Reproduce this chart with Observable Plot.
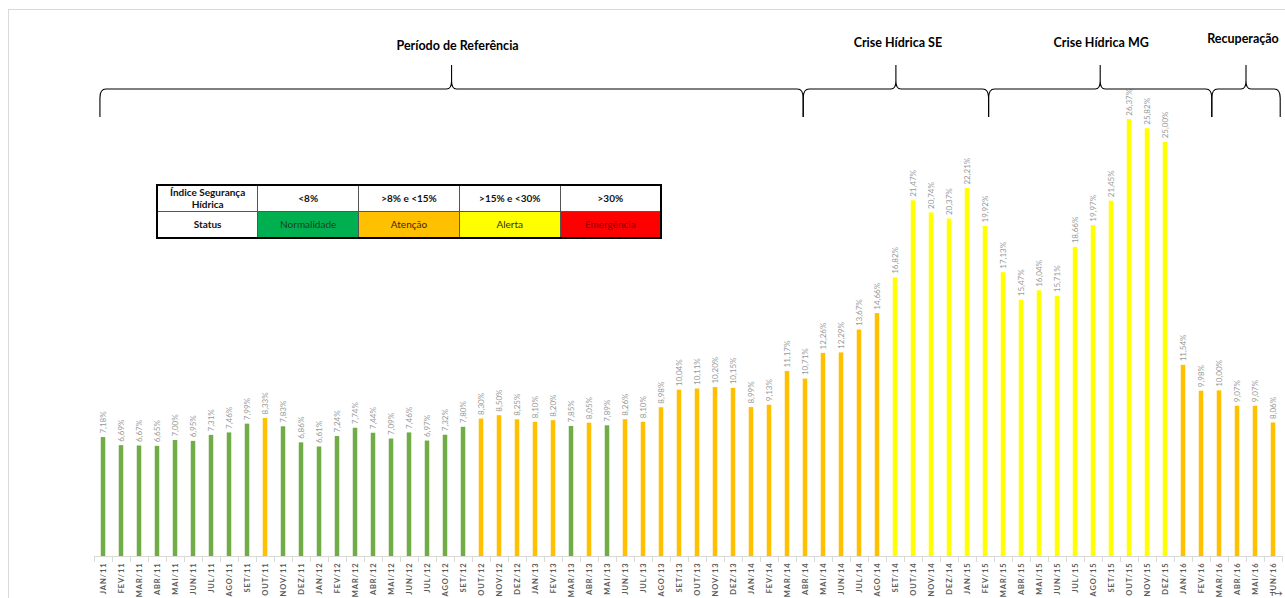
<!DOCTYPE html>
<html>
<head>
<meta charset="utf-8">
<script src="https://cdn.jsdelivr.net/npm/d3@7"></script>
<script src="https://cdn.jsdelivr.net/npm/@observablehq/plot@0.6"></script>
<style>
  html, body { margin: 0; padding: 0; background: #fff; overflow: hidden; }
  #wrap { position: relative; width: 1285px; height: 598px; font-family: Lato, "Open Sans", sans-serif; }
  #frame { position: absolute; left: 8px; top: 9px; width: 1300px; height: 620px;
           border-top: 1.5px solid #d9d9d9; border-left: 1.5px solid #d9d9d9; }
  #chart svg { position: absolute; left: 0; top: 0; }
  .ish g[aria-label="x-axis tick label"] text { letter-spacing: 0.9px; }
  table.legend { position: absolute; left: 156px; top: 184px; width: 506px; height: 53px;
                 border-collapse: collapse; border: 2px solid #000; table-layout: fixed;
                 font-family: Lato, "Open Sans", sans-serif; font-size: 10px; color: #111; }
  table.legend td { border: 1px solid #555; text-align: center; padding: 0; line-height: 1.15; }
  table.legend tr.head td { font-weight: bold; height: 25px; }
  table.legend tr.status td { height: 25px; }
  table.legend tr.status td.label { font-weight: bold; }
</style>
</head>
<body>
<div id="wrap">
  <div id="frame"></div>
  <div id="chart"></div>
</div>
<script>
// Monthly Índice de Segurança Hídrica, JAN/2011 – JUN/2016
const months = [
  "JAN/11","FEV/11","MAR/11","ABR/11","MAI/11","JUN/11","JUL/11","AGO/11","SET/11","OUT/11","NOV/11","DEZ/11",
  "JAN/12","FEV/12","MAR/12","ABR/12","MAI/12","JUN/12","JUL/12","AGO/12","SET/12","OUT/12","NOV/12","DEZ/12",
  "JAN/13","FEV/13","MAR/13","ABR/13","MAI/13","JUN/13","JUL/13","AGO/13","SET/13","OUT/13","NOV/13","DEZ/13",
  "JAN/14","FEV/14","MAR/14","ABR/14","MAI/14","JUN/14","JUL/14","AGO/14","SET/14","OUT/14","NOV/14","DEZ/14",
  "JAN/15","FEV/15","MAR/15","ABR/15","MAI/15","JUN/15","JUL/15","AGO/15","SET/15","OUT/15","NOV/15","DEZ/15",
  "JAN/16","FEV/16","MAR/16","ABR/16","MAI/16","JUN/16"
];
const values = [
  7.18, 6.69, 6.67, 6.65, 7.00, 6.95, 7.31, 7.46, 7.99, 8.33, 7.83, 6.86,
  6.61, 7.24, 7.74, 7.44, 7.09, 7.46, 6.97, 7.32, 7.80, 8.30, 8.50, 8.25,
  8.10, 8.20, 7.85, 8.05, 7.89, 8.26, 8.10, 8.98, 10.04, 10.11, 10.20, 10.15,
  8.99, 9.13, 11.17, 10.71, 12.26, 12.29, 13.67, 14.66, 16.82, 21.47, 20.74, 20.37,
  22.21, 19.92, 17.13, 15.47, 16.04, 15.71, 18.66, 19.97, 21.45, 26.37, 25.82, 25.00,
  11.54, 9.98, 10.00, 9.07, 9.07, 8.06
];

// Status thresholds (%) and the colours used for each status
const statusLimits = [8, 15, 30];
const statusNames = ["Normalidade", "Atenção", "Alerta", "Emergência"];
const statusRanges = ["<8%", ">8% e <15%", ">15% e <30%", ">30%"];
const barColors = ["#70AD47", "#FFC000", "#FFFF00", "#FF0000"];
const cellColors = ["#00B050", "#FFC000", "#FFFF00", "#FF0000"];
const cellText = ["#1b3d1b", "#3a2a00", "#333300", "#8b0000"];

// Periods marked with braces, spans given in month-index units
const periodNames = ["Período de Referência", "Crise Hídrica SE", "Crise Hídrica MG", "Recuperação"];
const periodStart = [-0.17, 38.9, 49.2, 61.6];
const periodEnd   = [38.9, 49.2, 61.6, 65.4];

const data = values.map((v, i) => ({i, month: months[i], v}));
const fmt = v => v.toFixed(2).replace(".", ",") + "%";
const barHalf = 0.125;
const boundaries = d3.range(-0.5, months.length, 1);

// Curly braces with their period titles, drawn in the top margin
function braces(index, {x}) {
  const g = d3.create("svg:g");
  const labelY = [47, 44, 44, 40];
  const labelDx = [6, 2, 1, -3];
  const yb = 117, yh = 89, yt = 65;
  periodNames.forEach((name, k) => {
    const x0 = x(periodStart[k]), x1 = x(periodEnd[k]), xm = (x0 + x1) / 2;
    g.append("path")
      .attr("fill", "none").attr("stroke", "#000").attr("stroke-width", 1.1)
      .attr("d",
        `M${x0},${yb}L${x0},${yh + 9}Q${x0},${yh} ${x0 + 6},${yh}` +
        `L${xm - 5},${yh}Q${xm},${yh} ${xm},${yh - 8}L${xm},${yt}` +
        `M${xm},${yh - 8}Q${xm},${yh} ${xm + 5},${yh}` +
        `L${x1 - 6},${yh}Q${x1},${yh} ${x1},${yh + 9}L${x1},${yb}`);
    g.append("text")
      .attr("x", xm + labelDx[k]).attr("y", labelY[k])
      .attr("text-anchor", "middle").attr("dominant-baseline", "middle")
      .attr("font-family", "Lato, 'Open Sans', sans-serif")
      .attr("font-weight", "bold").attr("font-size", 12.5).attr("fill", "#000")
      .text(name);
  });
  return g.node();
}

const chart = Plot.plot({
  width: 1285,
  height: 598,
  marginLeft: 94,
  marginRight: 3,
  marginTop: 59,
  marginBottom: 42,
  className: "ish",
  style: {fontFamily: "Lato, 'Open Sans', sans-serif", background: "transparent"},
  x: {type: "linear", domain: [-0.5, months.length - 0.5], axis: null},
  y: {domain: [0, 30], axis: null},
  color: {type: "threshold", domain: statusLimits, range: barColors},
  marks: [
    Plot.rectY(data, {x1: d => d.i - barHalf, x2: d => d.i + barHalf, y: "v", fill: "v"}),
    Plot.ruleY([0], {stroke: "#d9d9d9", strokeWidth: 1}),
    // tick marks between months
    Plot.ruleX(boundaries, {x: d => d, y1: 0, y2: 0, insetBottom: -6, stroke: "#d9d9d9", strokeWidth: 1}),
    // month labels
    Plot.axisX({ticks: d3.range(months.length), tickSize: 0, tickPadding: 6, tickRotate: -90,
                tickFormat: i => months[i], fontWeight: "bold", fontSize: 7.5, fill: "#595959"}),
    // value labels
    Plot.text(data, {x: "i", y: "v", text: d => fmt(d.v), rotate: -90, textAnchor: "start",
                     lineAnchor: "middle", dy: -4, fontSize: 8, fill: "#999999"}),
    braces
  ]
});
document.getElementById("chart").appendChild(chart);

// Status legend table
const table = document.createElement("table");
table.className = "legend";
const head = table.insertRow();
head.className = "head";
head.insertCell().innerHTML = "Índice Segurança<br>Hídrica";
statusRanges.forEach(r => { head.insertCell().textContent = r; });
const row = table.insertRow();
row.className = "status";
const lab = row.insertCell();
lab.className = "label";
lab.textContent = "Status";
statusNames.forEach((s, k) => {
  const c = row.insertCell();
  c.textContent = s;
  c.style.background = cellColors[k];
  c.style.color = cellText[k];
});
document.getElementById("wrap").appendChild(table);
</script>
</body>
</html>
